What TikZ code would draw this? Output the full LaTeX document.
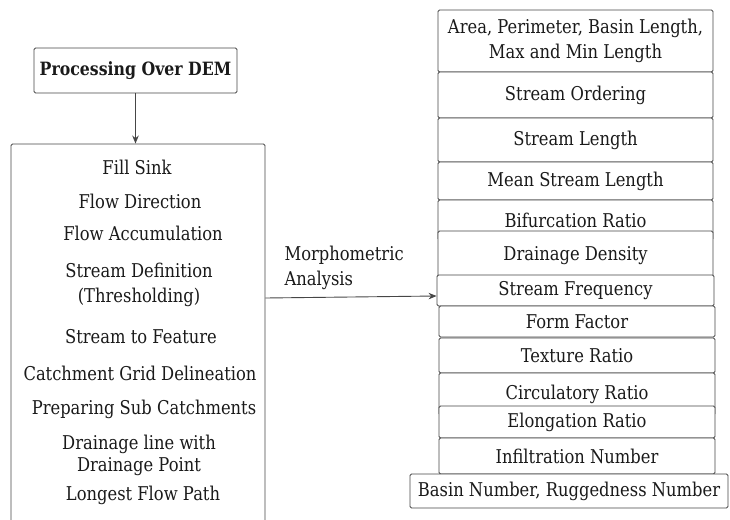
\documentclass[tikz,border=0pt]{standalone}
\usepackage{fontspec}
\setmainfont{DejaVu Serif}[FakeStretch=0.86]
\usetikzlibrary{arrows.meta}
\definecolor{edge}{HTML}{464646}
\definecolor{ink}{HTML}{1A1A1A}

\begin{document}
\begin{tikzpicture}[x=1pt, y=-1pt, font=\fontsize{19}{25}\selectfont, text=ink,
    box/.style={draw=edge, fill=white, line width=0.9pt, rounded corners=1.5pt, inner sep=0pt},
    arr/.style={draw=edge, line width=0.9pt, -{Stealth[length=8pt, width=6.5pt]}}]
  \useasboundingbox (0,0) rectangle (730,519);
  \node[box, minimum width=203, minimum height=45, font=\fontsize{18.3}{25}\selectfont\bfseries]
    (dem) at (135.5,70.5) {Processing Over DEM};
  \node[box, minimum width=254, minimum height=420] (steps) at (138,354) {};
  \draw[arr] (dem.south) -- (dem.south |- steps.north);
  \foreach \n/\x/\y/\t in {fill/137/167/Fill Sink, fdir/140/201/Flow Direction,
                           facc/143/233/Flow Accumulation,
                           sdef/139/284.5/{Stream Definition\\(Thresholding)},
                           sfeat/141/337/Stream to Feature, grid/140/373/Catchment Grid Delineation,
                           sub/144/409/Preparing Sub Catchments,
                           dline/139/455/{Drainage line with\\[-3pt]Drainage Point},
                           lfp/143/495/Longest Flow Path}
    \node[align=center] (\n) at (\x,\y) {\t};
  \foreach \n/\t/\b/\l/\r/\txt in {area/10/72/438/713/{Area, Perimeter, Basin Length,\\Max and Min Length},
                                  order/72/118/438/713/Stream Ordering,
                                  slen/118/162/438/713/Stream Length,
                                  mslen/162/200/438/713/Mean Stream Length,
                                  bif/200/240/438/713/Bifurcation Ratio,
                                  ddens/231/281/438/713/Drainage Density,
                                  sfreq/275/306/437/714/Stream Frequency,
                                  form/306/337/439/715/Form Factor,
                                  tex/338/373/439/715/Texture Ratio,
                                  circ/373/415/439/715/Circulatory Ratio,
                                  elong/406/438/439/715/Elongation Ratio,
                                  infil/438/474/439/715/Infiltration Number,
                                  basin/474/508/410/728/{Basin Number, Ruggedness Number}}
    \node[box, align=center, minimum width=\r-\l, minimum height=\b-\t] (\n) at ({(\l+\r)/2},{(\t+\b)/2}) {\txt};
  \node[align=left, anchor=west] (morph) at (281,267.5) {Morphometric\\Analysis};
  \draw[arr] (steps.east |- 0,298) -- ([yshift=-5.5pt]sfreq.west);
\end{tikzpicture}
\end{document}
